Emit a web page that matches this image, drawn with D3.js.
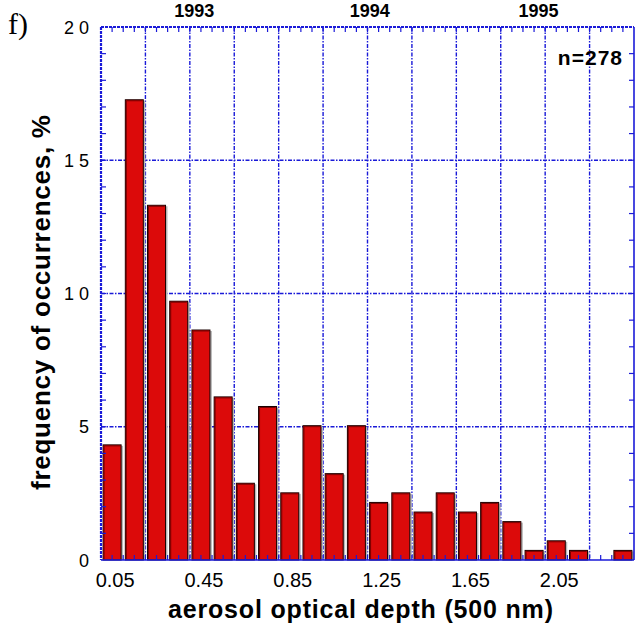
<!DOCTYPE html>
<html>
<head>
<meta charset="utf-8">
<script src="https://cdn.jsdelivr.net/npm/d3@7"></script>
<style>
html,body{margin:0;padding:0;background:#fff;}
svg{display:block;}
text{font-family:"Liberation Sans",Arial,Helvetica,sans-serif;}
</style>
</head>
<body>
<svg id="chart" width="635" height="628"></svg>
<script>
// ---- data ----
const binCenters = [0.05,0.15,0.25,0.35,0.45,0.55,0.65,0.75,0.85,0.95,1.05,1.15,1.25,1.35,1.45,1.55,1.65,1.75,1.85,1.95,2.05,2.15,2.25,2.35];
const frequency = [4.32,17.27,13.31,9.71,8.63,6.12,2.88,5.76,2.52,5.04,3.24,5.04,2.16,2.52,1.80,2.52,1.80,2.16,1.44,0.36,0.72,0.36,0,0.36];
const xTickValues = [0.05,0.45,0.85,1.25,1.65,2.05];
const xTickLabels = ["0.05","0.45","0.85","1.25","1.65","2.05"];
const yTickValues = [0,5,10,15,20];
const yTickLabels = ["0","5","1 0","1 5","2 0"];
const gridX = [0.2,0.4,0.6,0.8,1.0,1.2,1.4,1.6,1.8,2.0,2.2];
const gridY = [5,10,15];
const yearLabels = ["1993","1994","1995"];
const yearPositions = [0.42,1.21,1.97];
const sampleLabel = "n=278";

const svg = d3.select("#chart");
const pLeft = 101, pRight = 634, pTop = 27, pBottom = 560;
const x = d3.scaleLinear().domain([0,2.4]).range([pLeft,pRight]);
const y = d3.scaleLinear().domain([0,20]).range([pBottom,pTop]);
const barW = 18;
const blue = "#1a1ad8";

// grid
svg.append("g").selectAll("line").data(gridX).join("line")
  .attr("x1", d=>x(d)).attr("x2", d=>x(d)).attr("y1", pTop).attr("y2", pBottom)
  .attr("stroke", blue).attr("stroke-width", 1.4).attr("stroke-dasharray","4,1.5,1.5,1.5");
svg.append("g").selectAll("line").data(gridY).join("line")
  .attr("x1", pLeft).attr("x2", pRight).attr("y1", d=>y(d)).attr("y2", d=>y(d))
  .attr("stroke", blue).attr("stroke-width", 1.4).attr("stroke-dasharray","4,1.5,1.5,1.5");

// bars (shadow + bar)
const bars = binCenters.map((c,i)=>({c, v: frequency[i]})).filter(d=>d.v>0);
svg.append("g").selectAll("rect").data(bars).join("rect")
  .attr("x", d=>x(d.c)-barW/2+2).attr("y", d=>y(d.v)+1)
  .attr("width", barW).attr("height", d=>pBottom-y(d.v)-1)
  .attr("fill","#b8b8b8");
svg.append("g").selectAll("rect").data(bars).join("rect")
  .attr("x", d=>x(d.c)-barW/2).attr("y", d=>y(d.v))
  .attr("width", barW).attr("height", d=>pBottom-y(d.v))
  .attr("fill","#dc0a0a").attr("stroke","#1a0000").attr("stroke-width",1);
svg.append("g").selectAll("path").data(bars).join("path")
  .attr("d", d=>`M${x(d.c)-barW/2+1},${pBottom} V${y(d.v)+1} H${x(d.c)+barW/2-1}`)
  .attr("fill","none").attr("stroke","#7a0000").attr("stroke-width",1);

// minor ticks
const xMinor = d3.range(1,48).map(i=>i*0.05);
svg.append("g").selectAll("line").data(xMinor).join("line")
  .attr("x1", d=>x(d)).attr("x2", d=>x(d)).attr("y1", pBottom).attr("y2", pBottom-5)
  .attr("stroke", blue).attr("stroke-width",1.2);
svg.append("g").selectAll("line").data(xMinor).join("line")
  .attr("x1", d=>x(d)).attr("x2", d=>x(d)).attr("y1", pTop).attr("y2", pTop+5)
  .attr("stroke", blue).attr("stroke-width",1.2);
const yMinor = d3.range(1,20);
svg.append("g").selectAll("line").data(yMinor).join("line")
  .attr("x1", pLeft).attr("x2", pLeft+5).attr("y1", d=>y(d)).attr("y2", d=>y(d))
  .attr("stroke", blue).attr("stroke-width",1.2);
svg.append("g").selectAll("line").data(yMinor).join("line")
  .attr("x1", pRight).attr("x2", pRight-5).attr("y1", d=>y(d)).attr("y2", d=>y(d))
  .attr("stroke", blue).attr("stroke-width",1.2);

// frame
svg.append("line").attr("x1",pLeft).attr("x2",pRight).attr("y1",pBottom).attr("y2",pBottom)
  .attr("stroke",blue).attr("stroke-width",1.6);
svg.append("line").attr("x1",pRight).attr("x2",pRight).attr("y1",pTop).attr("y2",pBottom)
  .attr("stroke",blue).attr("stroke-width",1.6);
svg.append("line").attr("x1",pLeft).attr("x2",pRight).attr("y1",pTop).attr("y2",pTop)
  .attr("stroke",blue).attr("stroke-width",2.2).attr("stroke-dasharray","3,1");
svg.append("line").attr("x1",pLeft).attr("x2",pLeft).attr("y1",pTop).attr("y2",pBottom)
  .attr("stroke",blue).attr("stroke-width",2.2).attr("stroke-dasharray","3,1");

// x tick labels
svg.append("g").selectAll("text").data(xTickValues).join("text")
  .attr("x", d=>x(d)+3).attr("y", 587).attr("text-anchor","middle")
  .attr("font-size",20).attr("fill","#000").text((d,i)=>xTickLabels[i]);
// y tick labels
svg.append("g").selectAll("text").data(yTickValues).join("text")
  .attr("x", 89).attr("y", d=>y(d)+6.5).attr("text-anchor","end")
  .attr("font-size",18).attr("fill","#000").text((d,i)=>yTickLabels[i]);

// titles
svg.append("text").attr("x",168).attr("y",618).attr("font-size",25).attr("font-weight","bold")
  .attr("textLength",385).attr("lengthAdjust","spacing").text("aerosol optical depth (500 nm)");
svg.append("text").attr("transform","translate(50,490) rotate(-90)")
  .attr("font-size",26).attr("font-weight","bold")
  .attr("textLength",375).attr("lengthAdjust","spacing").text("frequency of occurrences, %");

// top year labels
svg.append("g").selectAll("text").data(yearLabels).join("text")
  .attr("x",(d,i)=>x(yearPositions[i])).attr("y",17).attr("text-anchor","middle")
  .attr("font-size",18).attr("font-weight","bold").text(d=>d);

svg.append("text").attr("x",623).attr("y",65).attr("text-anchor","end")
  .attr("font-size",21).attr("font-weight","bold").attr("letter-spacing",1).text(sampleLabel);

svg.append("text").attr("x",8).attr("y",34).attr("font-size",30)
  .style("font-family","'Liberation Serif','Times New Roman',serif").text("f)");
</script>
</body>
</html>
